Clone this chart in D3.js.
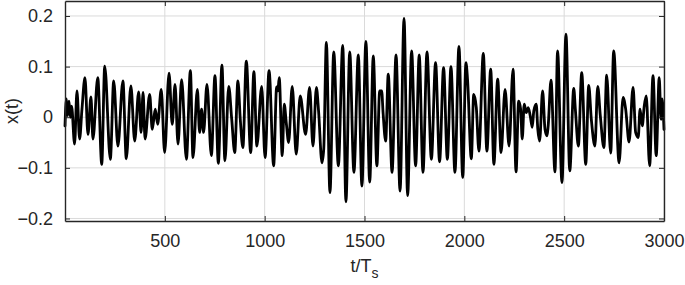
<!DOCTYPE html>
<html>
<head>
<meta charset="utf-8">
<script src="https://cdn.jsdelivr.net/npm/d3@7"></script>
<style>
  html, body { margin: 0; padding: 0; background: #ffffff; }
  svg { display: block; }
  text { font-family: "Liberation Sans", Arial, Helvetica, sans-serif; fill: #262626; }
</style>
</head>
<body>
<svg id="chart" width="685" height="285"></svg>
<script>
// Sample times (t/Ts) of the signal's turning points
const sampleTimes = [
  0, 7, 13, 20, 27, 33, 48, 60, 73, 85, 100, 115, 130, 140, 164, 184, 199, 227, 244, 265,
  290, 307, 330, 349, 369, 381, 391, 401, 424, 437, 452, 464, 482, 499, 521, 537, 551, 566, 584, 608,
  628, 641, 663, 674, 684, 694, 711, 733, 751, 768, 786, 801, 820, 835, 850, 866, 878, 891, 908, 930,
  946, 961, 985, 1002, 1022, 1045, 1060, 1066, 1073, 1088, 1098, 1108, 1120, 1138, 1158, 1178, 1205, 1225, 1242, 1259,
  1270, 1287, 1296, 1309, 1327, 1346, 1369, 1391, 1407, 1426, 1447, 1469, 1487, 1507, 1526, 1544, 1562, 1576, 1586, 1593,
  1606, 1619, 1638, 1658, 1678, 1698, 1716, 1736, 1756, 1774, 1793, 1813, 1835, 1856, 1876, 1896, 1915, 1933, 1953, 1973,
  1992, 2008, 2016, 2035, 2047, 2060, 2073, 2095, 2113, 2132, 2148, 2167, 2184, 2204, 2224, 2244, 2259, 2272, 2282, 2290,
  2300, 2310, 2320, 2330, 2340, 2348, 2360, 2368, 2377, 2392, 2404, 2414, 2420, 2434, 2454, 2467, 2489, 2509, 2528, 2548,
  2556, 2571, 2588, 2608, 2623, 2636, 2654, 2668, 2681, 2699, 2713, 2733, 2748, 2775, 2795, 2808, 2825, 2845, 2858, 2871,
  2880, 2891, 2901, 2911, 2928, 2945, 2961, 2976, 2985, 2991, 3000
];
// Signal values x(t) at those times
const signalValues = [
  -0.017, 0.036, 0.003, 0.032, 0.000, 0.022, -0.053, 0.052, -0.043, 0.016, 0.078, -0.034, 0.040, -0.043, 0.078, -0.093, 0.101, -0.083, 0.072, -0.057,
  0.072, -0.082, 0.062, -0.047, 0.050, -0.030, 0.049, -0.043, 0.045, -0.024, 0.016, -0.014, 0.055, -0.070, 0.087, -0.014, 0.065, -0.053, 0.074, -0.083,
  0.092, -0.080, 0.055, -0.030, 0.016, -0.030, 0.065, -0.076, 0.082, -0.091, 0.103, -0.086, 0.061, -0.004, -0.070, 0.072, -0.005, -0.060, 0.111, -0.070,
  0.090, -0.057, 0.061, -0.080, 0.092, -0.096, 0.060, 0.052, 0.078, -0.076, 0.026, -0.010, -0.050, 0.061, -0.073, 0.042, -0.034, 0.059, -0.057, 0.059,
  0.012, -0.090, -0.062, 0.148, -0.149, 0.129, -0.096, 0.142, -0.167, 0.129, -0.109, 0.123, -0.136, 0.150, -0.128, 0.121, -0.096, 0.052, 0.052, 0.009,
  -0.047, 0.085, -0.109, 0.123, -0.146, 0.195, -0.155, 0.131, -0.096, 0.123, -0.109, 0.129, -0.083, 0.108, -0.088, 0.098, -0.083, 0.100, -0.109, 0.140,
  -0.119, 0.108, 0.075, -0.082, 0.045, 0.019, -0.067, 0.126, -0.067, 0.095, -0.093, 0.075, -0.070, 0.055, -0.057, 0.095, -0.108, 0.032, 0.016, -0.043,
  0.026, 0.009, 0.019, 0.003, -0.020, 0.013, 0.026, -0.024, -0.047, 0.052, -0.024, -0.037, -0.017, 0.073, -0.108, 0.131, -0.129, 0.164, -0.106, 0.057,
  0.016, -0.057, 0.088, -0.093, 0.063, -0.004, -0.057, 0.061, 0.003, -0.060, 0.083, -0.071, 0.131, -0.090, 0.039, 0.016, -0.049, 0.059, -0.030, -0.040,
  0.016, -0.017, 0.022, 0.042, -0.096, 0.082, -0.076, 0.078, -0.004, 0.036, -0.024
];
const xTicks = [500, 1000, 1500, 2000, 2500, 3000];
const yTicks = [-0.2, -0.1, 0, 0.1, 0.2];
const xDomain = [0, 3000];
const yDomain = [-0.205, 0.2296];

const data = sampleTimes.map((t, i) => ({ t: t, v: signalValues[i] }));

const svg = d3.select("#chart");
const mLeft = 65, mRight = 664, mTop = 1, mBottom = 221;

const x = d3.scaleLinear().domain(xDomain).range([mLeft, mRight]);
const y = d3.scaleLinear().domain(yDomain).range([mBottom, mTop]);

// grid
const grid = svg.append("g");
grid.selectAll("line.vx").data(xTicks).enter().append("line")
  .attr("x1", d => x(d)).attr("x2", d => x(d))
  .attr("y1", mTop).attr("y2", mBottom)
  .attr("stroke", "#dadada").attr("stroke-width", 1);
grid.selectAll("line.hy").data(yTicks).enter().append("line")
  .attr("x1", mLeft).attr("x2", mRight)
  .attr("y1", d => y(d)).attr("y2", d => y(d))
  .attr("stroke", "#dadada").attr("stroke-width", 1);

// signal
const line = d3.line().x(d => x(d.t)).y(d => y(d.v)).curve(d3.curveMonotoneX);
svg.append("path").datum(data)
  .attr("d", line)
  .attr("fill", "none")
  .attr("stroke", "#000")
  .attr("stroke-width", 2.8)
  .attr("stroke-linejoin", "round")
  .attr("stroke-linecap", "round");

// axes (MATLAB-like, ticks inward)
const fmtY = d => d === 0 ? "0" : d3.format(".1f")(d);
const axB = svg.append("g").attr("transform", `translate(0,${mBottom})`)
  .call(d3.axisBottom(x).tickValues(xTicks).tickSizeInner(-5).tickSizeOuter(0).tickPadding(13).tickFormat(d3.format("d")));
const axT = svg.append("g").attr("transform", `translate(0,${mTop})`)
  .call(d3.axisTop(x).tickValues(xTicks).tickSizeInner(-5).tickSizeOuter(0).tickFormat(""));
const axL = svg.append("g").attr("transform", `translate(${mLeft},0)`)
  .call(d3.axisLeft(y).tickValues(yTicks).tickSizeInner(-5).tickSizeOuter(0).tickPadding(12).tickFormat(fmtY));
const axR = svg.append("g").attr("transform", `translate(${mRight},0)`)
  .call(d3.axisRight(y).tickValues(yTicks).tickSizeInner(-5).tickSizeOuter(0).tickFormat(""));

[axB, axT, axL, axR].forEach(a => {
  a.select(".domain").attr("stroke", "#262626").attr("stroke-width", 1.4);
  a.selectAll(".tick line").attr("stroke", "#262626").attr("stroke-width", 1);
  a.selectAll(".tick text").attr("font-size", "18px").attr("fill", "#262626")
    .attr("font-family", "'Liberation Sans', Arial, sans-serif");
});

// labels
svg.append("text")
  .attr("transform", `translate(18,${(mTop + mBottom) / 2}) rotate(-90)`)
  .attr("text-anchor", "middle")
  .attr("font-size", "18px")
  .text("x(t)");

const xl = svg.append("text")
  .attr("x", (mLeft + mRight) / 2)
  .attr("y", 272)
  .attr("text-anchor", "middle")
  .attr("font-size", "18px");
xl.append("tspan").text("t/T");
xl.append("tspan").attr("font-size", "14px").attr("dy", 6).text("s");
</script>
</body>
</html>
